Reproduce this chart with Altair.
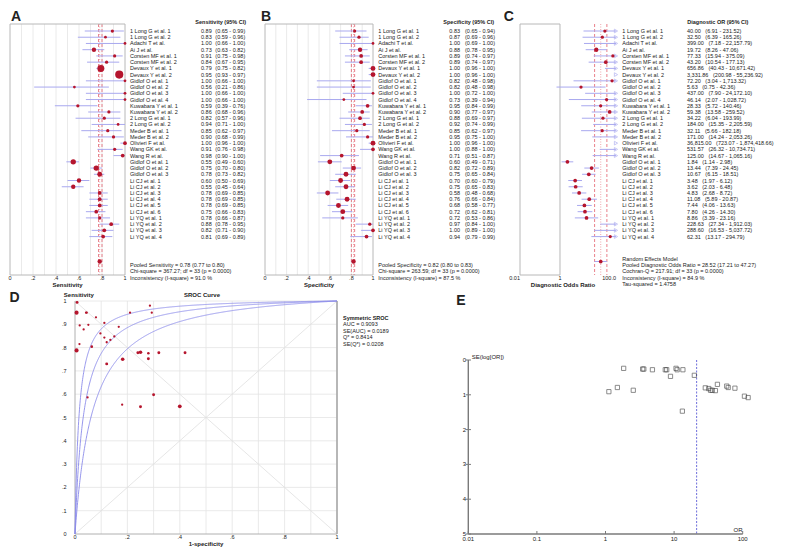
import altair as alt
import pandas as pd

FONT = "Liberation Sans"
DOT = "#b5152d"
CIC = "#a9a9ef"
TXT = "#222222"
FRAME = "#b8b8b8"
GRID = "#e4e4e4"
POOLC = "#e2606c"
SROC = "#8b8bea"
AXC = "#7a7a7a"

# ---------------- data ----------------
studies = [
    "1  Long G et al. 1", "1  Long G et al. 2", "Adachi T et al.", "Ai J et al.",
    "Corsten MF et al. 1", "Corsten MF et al. 2", "Devaux Y et al. 1", "Devaux Y et al. 2",
    "Gidlof O et al. 1", "Gidlof O et al. 2", "Gidlof O et al. 3", "Gidlof O et al. 4",
    "Kuwabara Y et al. 1", "Kuwabara Y et al. 2", "2 Long G et al.   1", "2 Long G et al.   2",
    "Meder  B et al. 1", "Meder  B et al. 2", "Olivieri F et al.", "Wang GK et al.",
    "Wang R et al.", "Gidlof O et al. 1", "Gidlof O et al. 2", "Gidlof O et al. 3",
    "Li CJ et al. 1", "Li CJ et al. 2", "Li CJ et al. 3", "Li CJ et al. 4",
    "Li CJ et al. 5", "Li CJ et al. 6", "Li  YQ et al. 1", "Li  YQ et al. 2",
    "Li  YQ et al. 3", "Li  YQ et al. 4",
]

sens = [0.89, 0.83, 1.00, 0.73, 0.91, 0.84, 0.79, 0.95, 1.00, 0.56, 1.00, 1.00, 0.59, 0.86, 0.82, 0.94, 0.85,
        0.90, 1.00, 0.91, 0.98, 0.55, 0.75, 0.78, 0.60, 0.55, 0.78, 0.78, 0.78, 0.75, 0.78, 0.88, 0.82, 0.81]
sens_lo = [0.65, 0.59, 0.66, 0.63, 0.75, 0.67, 0.75, 0.93, 0.66, 0.21, 0.66, 0.66, 0.39, 0.68, 0.57, 0.71, 0.62,
           0.68, 0.96, 0.76, 0.90, 0.49, 0.70, 0.73, 0.50, 0.45, 0.69, 0.69, 0.69, 0.66, 0.66, 0.78, 0.71, 0.69]
sens_hi = [0.99, 0.96, 1.00, 0.82, 0.98, 0.95, 0.82, 0.97, 1.00, 0.86, 1.00, 1.00, 0.76, 0.96, 0.96, 1.00, 0.97,
           0.99, 1.00, 0.98, 1.00, 0.60, 0.80, 0.82, 0.69, 0.64, 0.85, 0.85, 0.85, 0.83, 0.87, 0.95, 0.90, 0.89]
sens_w = [2, 1.7, 1.7, 2.7, 2, 2, 4.3, 5, 1.7, 1.7, 1.7, 1.7, 2, 2, 2, 1.7, 2, 2, 2.3, 2, 2.3, 3.3, 3.3, 3,
          2.7, 2.7, 2.3, 2.3, 2.3, 2.3, 2, 2.3, 2.3, 2.3]

spec = [0.83, 0.87, 1.00, 0.88, 0.89, 0.89, 1.00, 1.00, 0.82, 0.82, 1.00, 0.73, 0.95, 0.90, 0.88, 0.92, 0.85,
        0.95, 1.00, 1.00, 0.71, 0.60, 0.82, 0.75, 0.70, 0.75, 0.58, 0.76, 0.68, 0.72, 0.72, 0.97, 1.00, 0.94]
spec_lo = [0.65, 0.69, 0.69, 0.78, 0.74, 0.74, 0.96, 0.96, 0.48, 0.48, 0.72, 0.39, 0.84, 0.77, 0.69, 0.74, 0.62,
           0.75, 0.96, 0.88, 0.51, 0.49, 0.72, 0.65, 0.60, 0.65, 0.48, 0.66, 0.58, 0.62, 0.53, 0.84, 0.89, 0.79]
spec_hi = [0.94, 0.96, 1.00, 0.95, 0.97, 0.97, 1.00, 1.00, 0.98, 0.98, 1.00, 0.94, 0.99, 0.97, 0.97, 0.99, 0.97,
           1.00, 1.00, 1.00, 0.87, 0.71, 0.89, 0.84, 0.79, 0.83, 0.68, 0.84, 0.77, 0.81, 0.86, 1.00, 1.00, 0.99]
spec_w = [2, 2, 1.7, 2.7, 2.3, 2.3, 3, 3, 1.7, 1.7, 1.7, 1.7, 2.3, 2.3, 2.3, 2, 2, 2, 3, 2.3, 2.3, 3, 3, 3,
          3, 3, 3, 3, 3, 3, 2, 2, 2.3, 2.3]

dor = [40.00, 32.50, 399.00, 19.72, 77.33, 43.20, 656.86, 3331.86, 72.20, 5.63, 437.00, 46.14, 28.33, 59.38,
       34.22, 184.00, 32.11, 171.00, 36815.00, 531.57, 125.00, 1.84, 13.44, 10.67, 3.48, 3.62, 4.83, 11.08,
       7.44, 7.80, 8.86, 228.63, 288.60, 62.31]
dor_lo = [6.91, 6.39, 7.18, 8.26, 15.94, 10.54, 40.43, 200.98, 3.04, 0.75, 7.90, 2.07, 5.72, 13.58, 6.04,
          15.35, 5.66, 14.24, 723.07, 26.32, 14.67, 1.14, 7.39, 6.15, 1.97, 2.03, 2.68, 5.89, 4.06, 4.26,
          3.39, 27.34, 16.53, 13.17]
dor_hi = [231.52, 165.26, 22157.79, 47.06, 375.09, 177.13, 10671.42, 55236.92, 1713.32, 42.36, 24172.10,
          1028.72, 140.46, 259.52, 193.99, 2205.59, 182.18, 2053.26, 1874418.66, 10734.71, 1065.16, 2.98,
          24.45, 18.51, 6.12, 6.48, 8.72, 20.87, 13.63, 14.30, 23.16, 1912.03, 5037.72, 294.79]
dor_w = [2, 2, 2, 2.7, 2, 2.3, 2, 2, 2, 2, 2, 2, 2, 2.3, 2, 2, 2, 2, 2, 2, 2, 2.3, 2.3, 2.3, 2.3, 2.3, 2.3,
         2.3, 2.3, 2.3, 2.3, 2, 2, 2]

pool_sens = [0.78, 0.77, 0.80]
pool_spec = [0.82, 0.80, 0.83]
pool_dor = [28.52, 17.21, 47.27]

# SROC scatter (1-specificity, sensitivity, weight)
roc_fpr = [0.167, 0.135, 0.045, 0.121, 0.112, 0.112, 0.006, 0.006, 0.21, 0.18, 0.042, 0.293, 0.048, 0.097,
           0.121, 0.08, 0.15, 0.051, 0.008, 0.018, 0.286, 0.40, 0.182, 0.25, 0.30, 0.25, 0.42, 0.24, 0.32,
           0.28, 0.28, 0.033, 0.017, 0.064]
roc_sens = [0.889, 0.833, 0.95, 0.73, 0.906, 0.843, 0.788, 0.95, 0.95, 0.555, 0.95, 0.95, 0.586, 0.861,
            0.823, 0.93, 0.848, 0.898, 0.994, 0.895, 0.98, 0.548, 0.75, 0.78, 0.598, 0.546, 0.778, 0.778,
            0.778, 0.752, 0.776, 0.878, 0.815, 0.804]
roc_w = [1.4, 1.4, 1.4, 1.8, 1.4, 1.4, 2.5, 2.5, 1.4, 1.4, 1.4, 1.4, 1.4, 1.4, 1.4, 1.4, 1.4, 1.4, 1.8, 1.4,
         1.4, 2.3, 2.2, 2.2, 1.8, 1.8, 1.8, 1.8, 1.8, 1.8, 1.6, 1.4, 1.4, 1.6]
sroc_dor = [66, 31, 15.5]
sroc_text = ["AUC = 0.9093", "SE(AUC) = 0.0189", "Q* = 0.8414", "SE(Q*) = 0.0208"]

# funnel plot (OR, SE(log OR))
e_or = [1.12, 1.49, 1.84, 2.54, 3.48, 3.62, 4.83, 7.44, 7.80, 8.86, 10.67, 11.08, 13.44, 13.2, 19.72, 28.5,
        32.0, 34.0, 36.0, 40.0, 42.8, 58.5, 61.5, 77.0, 106.0, 120.0]
e_se = [0.91, 0.79, 0.24, 0.87, 0.26, 0.26, 0.28, 0.28, 0.28, 0.47, 0.24, 0.28, 0.28, 1.47, 0.44, 0.80,
        0.82, 0.87, 0.87, 0.88, 0.70, 0.75, 0.79, 0.81, 1.04, 1.08]
e_line = 21.3

# tick labels
prop_ticks = [0, 0.2, 0.4, 0.6, 0.8, 1]
prop_tick_labels = ["0", ".2", ".4", ".6", ".8", "1"]
roc_yticks = [0, 0.1, 0.2, 0.3, 0.4, 0.5, 0.6, 0.7, 0.8, 0.9, 1]
roc_ytick_labels = ["0", ".1", ".2", ".3", ".4", ".5", ".6", ".7", ".8", ".9", "1"]
e_xticks = [0.01, 0.1, 1, 10, 100]
e_xtick_labels = ["0.01", "0.1", "1", "10", "100"]
e_yticks = [0, 1, 2, 3, 4, 5]
e_ytick_labels = ["0", "1", "2", "3", "4", "5"]

# ---------------- helpers ----------------
ONE = pd.DataFrame({"o": [0]})
H = 510
TOP_H = 251
SIZE = alt.Scale(type="pow", exponent=2, domain=[0, 5], range=[0, 66])


def txt(s, x, y, size=5.5, bold=False, align="left", baseline="middle"):
    return alt.Chart(ONE).mark_text(
        text=s, align=align, baseline=baseline, font=FONT, fontSize=size,
        fontWeight="bold" if bold else "normal", color=TXT,
    ).encode(x=alt.value(x), y=alt.value(y))


def xlabels(vals, labs, xs, y, size=5.5, align="center"):
    df = pd.DataFrame({"t": vals, "lab": labs})
    return alt.Chart(df).mark_text(align=align, baseline="top", font=FONT, fontSize=size, color=TXT).encode(
        x=alt.X("t:Q", scale=xs, axis=None), y=alt.value(y), text="lab:N")


def ylabels(vals, labs, ys, x, size=5.5):
    df = pd.DataFrame({"t": vals, "lab": labs})
    return alt.Chart(df).mark_text(align="right", baseline="middle", font=FONT, fontSize=size, color=TXT).encode(
        y=alt.Y("t:Q", scale=ys, axis=None), x=alt.value(x), text="lab:N")


def forest(est, lo, hi, w, pool, pool_w, xs, frame, lab_x, val_x, ci_x, vals, cis,
           header, hx, footers, fy, letter, lx, cap=None, grid=True):
    ys = alt.Scale(domain=[-1.124, 39.165], range=[0, TOP_H], nice=False, zero=False)
    Y = alt.Y("row:Q", scale=ys, axis=None)
    df = pd.DataFrame({"row": list(range(len(studies))), "label": studies, "est": est, "lo": lo,
                       "hi": hi, "w": w, "vt": vals, "ct": cis})
    pts = alt.Chart(df)
    if cap is not None:
        pts = pts.transform_filter(f"datum.est <= {cap}")
    L = []
    if grid:
        L.append(alt.Chart(alt.sequence(0.1, 0.95, 0.1, as_="g")).mark_rule(color=GRID, strokeWidth=0.8)
                 .encode(x=alt.X("g:Q", scale=xs, axis=None), y=alt.value(0), y2=alt.value(TOP_H)))
    L.append(alt.Chart(pd.DataFrame({"v": [pool[0]]})).mark_rule(color=POOLC, strokeDash=[1, 1.5],
             strokeWidth=0.8, opacity=0.7)
             .encode(x=alt.X("v:Q", scale=xs, axis=None), y=alt.value(0), y2=alt.value(TOP_H)))
    L.append(alt.Chart(pd.DataFrame({"v": [pool[1], pool[2]]})).mark_rule(color=POOLC, strokeDash=[3, 2],
             strokeWidth=0.8)
             .encode(x=alt.X("v:Q", scale=xs, axis=None), y=alt.value(0), y2=alt.value(TOP_H)))
    L.append(alt.Chart(ONE).mark_rect(fillOpacity=0, stroke=FRAME, strokeWidth=1)
             .encode(x=alt.XDatum(frame[0], scale=xs, axis=None), x2=alt.X2Datum(frame[1]),
                     y=alt.value(0), y2=alt.value(TOP_H)))
    cib = alt.Chart(df)
    if cap is not None:
        cib = cib.transform_calculate(lo2=f"min(datum.lo, {cap})", hi2=f"min(datum.hi, {cap})")
        lo_f, hi_f = "lo2:Q", "hi2"
    else:
        lo_f, hi_f = "lo:Q", "hi"
    L.append(cib.mark_rule(color=CIC, strokeWidth=1)
             .encode(x=alt.X(lo_f, scale=xs, axis=None), x2=alt.X2(hi_f), y=Y))
    if cap is not None:
        L.append(alt.Chart(df).transform_filter(f"datum.hi > {cap}").transform_calculate(a=str(cap))
                 .mark_point(shape="triangle-right", filled=False, color=CIC, size=14, strokeWidth=0.9)
                 .encode(x=alt.X("a:Q", scale=xs, axis=None), y=Y))
    L.append(pts.mark_circle(color=DOT, opacity=1)
             .encode(x=alt.X("est:Q", scale=xs, axis=None), y=Y,
                     size=alt.Size("w:Q", scale=SIZE, legend=None)))
    dfp = pd.DataFrame({"row": [37], "est": [pool[0]], "lo": [pool[1]], "hi": [pool[2]], "w": [pool_w]})
    L.append(alt.Chart(dfp).mark_rule(color=CIC, strokeWidth=1)
             .encode(x=alt.X("lo:Q", scale=xs, axis=None), x2=alt.X2("hi"), y=Y))
    L.append(alt.Chart(dfp).mark_circle(color=DOT, opacity=1)
             .encode(x=alt.X("est:Q", scale=xs, axis=None), y=Y,
                     size=alt.Size("w:Q", scale=SIZE, legend=None)))
    tm = dict(align="left", baseline="middle", font=FONT, fontSize=5.5, color=TXT)
    L.append(alt.Chart(df).mark_text(**tm).encode(x=alt.value(lab_x), y=Y, text="label:N"))
    if ci_x is None:
        df2 = df.assign(full=[a + "\u00a0\u00a0\u00a0" + b for a, b in zip(vals, cis)])
        L.append(alt.Chart(df2).mark_text(**tm).encode(x=alt.value(val_x), y=Y, text="full:N"))
    else:
        L.append(alt.Chart(df).mark_text(**tm).encode(x=alt.value(val_x), y=Y, text="vt:N"))
        L.append(alt.Chart(df).mark_text(**tm).encode(x=alt.value(ci_x), y=Y, text="ct:N"))
    L.append(txt(header, hx, -2, bold=True))
    for s, yy in zip(footers, fy):
        L.append(txt(s, lab_x, yy))
    L.append(txt(letter, lx, -14, size=14, bold=True, baseline="top"))
    return L


def fmt2(v):
    return f"{v:.2f}"


# ---------------- panel A ----------------
xs_a = alt.Scale(domain=[0, 1], range=[0, 115], nice=False, zero=False)
LA = forest(
    sens, sens_lo, sens_hi, sens_w, pool_sens, 2.7, xs_a, (0, 1), 120, 191, 205.3, [fmt2(v) for v in sens],
    [f"({fmt2(a)} - {fmt2(b)})" for a, b in zip(sens_lo, sens_hi)],
    "Sensitivity (95% CI)", 185.3,
    ["Pooled Sensitivity = 0.78 (0.77 to 0.80)", "Chi-square = 367.27; df = 33 (p = 0.0000)",
     "Inconsistency (I-square) = 91.0 %"], [240.7, 247, 254], "A", 1)
LA.append(xlabels(prop_ticks, prop_tick_labels, xs_a, 252))
LA.append(txt("Sensitivity", 57.5, 260.5, size=6, bold=True, align="center"))
panel_a = alt.layer(*LA)

# ---------------- panel B ----------------
xs_b = alt.Scale(domain=[0, 1], range=[255, 363], nice=False, zero=False)
LB = forest(
    spec, spec_lo, spec_hi, spec_w, pool_spec, 2.7, xs_b, (0, 1), 368.3, 439.3, 455, [fmt2(v) for v in spec],
    [f"({fmt2(a)} - {fmt2(b)})" for a, b in zip(spec_lo, spec_hi)],
    "Specificity (95% CI)", 433.3,
    ["Pooled Specificity = 0.82 (0.80 to 0.83)", "Chi-square = 263.59; df = 33 (p = 0.0000)",
     "Inconsistency (I-square) = 87.5 %"], [240.7, 247, 254], "B", 251)
LB.append(xlabels(prop_ticks, prop_tick_labels, xs_b, 252))
LB.append(txt("Specificity", 309, 260.5, size=6, bold=True, align="center"))
panel_b = alt.layer(*LB)

# ---------------- panel C ----------------
c_left = 0.0373
xs_c = alt.Scale(type="log", domain=[c_left, 100], range=[510, 606], nice=False)
LC = forest(
    dor, dor_lo, dor_hi, dor_w, pool_dor, 2.3, xs_c, (c_left, 1), 612.3, 677, None,
    [f"{v:,.2f}" for v in dor], [f"({a:,.2f} - {b:,.2f})" for a, b in zip(dor_lo, dor_hi)],
    "Diagnostic OR (95% CI)", 677.3,
    ["Random Effects Model", "Pooled Diagnostic Odds Ratio = 28.52 (17.21 to 47.27)",
     "Cochran-Q = 217.91; df = 33 (p = 0.0000)", "Inconsistency (I-square) = 84.9 %",
     "Tau-squared = 1.4758"], [234.7, 241, 247.3, 254, 260], "C", 493.7, cap=100, grid=False)
LC.append(xlabels([c_left], ["0.01"], xs_c, 252, align="right"))
LC.append(xlabels([1], ["1"], xs_c, 252))
LC.append(xlabels([100], ["100.0"], xs_c, 252, align="right"))
LC.append(txt("Diagnostic Odds Ratio", 553, 260.5, size=6, bold=True, align="center"))
panel_c = alt.layer(*LC)

# ---------------- panel D (SROC) ----------------
xs_d = alt.Scale(domain=[0, 1], range=[65, 327], nice=False, zero=False)
ys_d = alt.Scale(domain=[0, 1], range=[510, 277], nice=False, zero=False)
df_roc = pd.DataFrame({"fpr": roc_fpr, "sens": roc_sens, "w": roc_w})
D = []
D.append(alt.Chart(alt.sequence(0.1, 1.05, 0.1, as_="g")).mark_rule(color=GRID, strokeWidth=0.8)
         .encode(x=alt.X("g:Q", scale=xs_d, axis=None), y=alt.YDatum(0, scale=ys_d, axis=None),
                 y2=alt.Y2Datum(1)))
D.append(alt.Chart(alt.sequence(0.1, 1.05, 0.1, as_="g")).mark_rule(color=GRID, strokeWidth=0.8)
         .encode(y=alt.Y("g:Q", scale=ys_d, axis=None), x=alt.XDatum(0, scale=xs_d, axis=None),
                 x2=alt.X2Datum(1)))
D.append(alt.Chart(ONE).mark_rule(color="#e0e0e0", strokeWidth=0.8)
         .encode(x=alt.XDatum(0, scale=xs_d, axis=None), y=alt.YDatum(0, scale=ys_d, axis=None),
                 x2=alt.X2Datum(1), y2=alt.Y2Datum(1)))
D.append(alt.Chart(ONE).mark_rule(color="#e0e0e0", strokeWidth=0.8)
         .encode(x=alt.XDatum(0, scale=xs_d, axis=None), y=alt.YDatum(1, scale=ys_d, axis=None),
                 x2=alt.X2Datum(1), y2=alt.Y2Datum(0)))
# axis lines and right border
D.append(alt.Chart(ONE).mark_rule(color="#b0b0b0", strokeWidth=1)
         .encode(x=alt.XDatum(0, scale=xs_d, axis=None), y=alt.YDatum(0, scale=ys_d, axis=None),
                 y2=alt.Y2Datum(1)))
D.append(alt.Chart(ONE).mark_rule(color="#b0b0b0", strokeWidth=1)
         .encode(x=alt.XDatum(0, scale=xs_d, axis=None), x2=alt.X2Datum(1),
                 y=alt.YDatum(0, scale=ys_d, axis=None)))
D.append(alt.Chart(ONE).mark_rule(color="#a8a8a8", strokeWidth=1.6)
         .encode(x=alt.XDatum(1, scale=xs_d, axis=None), y=alt.YDatum(0, scale=ys_d, axis=None),
                 y2=alt.Y2Datum(1)))
for d in sroc_dor:
    D.append(alt.Chart(alt.sequence(0, 1.0001, 0.001, as_="f"))
             .transform_calculate(s=f"{d} * datum.f / (1 - datum.f + {d} * datum.f)")
             .mark_line(color=SROC, strokeWidth=0.9)
             .encode(x=alt.X("f:Q", scale=xs_d, axis=None), y=alt.Y("s:Q", scale=ys_d, axis=None)))
D.append(alt.Chart(df_roc).mark_circle(color=DOT, opacity=1)
         .encode(x=alt.X("fpr:Q", scale=xs_d, axis=None), y=alt.Y("sens:Q", scale=ys_d, axis=None),
                 size=alt.Size("w:Q", scale=SIZE, legend=None)))
D.append(xlabels(prop_ticks, prop_tick_labels, xs_d, 511))
D.append(ylabels(roc_yticks, roc_ytick_labels, ys_d, 56.5))
D.append(txt("1-specificity", 196, 520, size=6, bold=True, align="center"))
D.append(txt("Sensitivity", 68.8, 271, size=6, bold=True, align="center"))
D.append(txt("SROC Curve", 192, 271, size=6, bold=True, align="center"))
D.append(txt("D", -0.5, 266.5, size=14, bold=True, baseline="top"))
D.append(txt("Symmetric SROC", 333, 294.3, bold=True))
for s, yy in zip(sroc_text, [300, 306.7, 313.3, 320]):
    D.append(txt(s, 333, yy))
panel_d = alt.layer(*D)

# ---------------- panel E (funnel) ----------------
xs_e = alt.Scale(type="log", domain=[0.01, 100], range=[458.3, 732.7], nice=False)
ys_e = alt.Scale(domain=[0, 5], range=[336, 510], nice=False, zero=False)
df_e = pd.DataFrame({"or": e_or, "se": e_se})
E = []
E.append(alt.Chart(pd.DataFrame({"v": [e_line]})).mark_rule(color="#5d5dd6", strokeDash=[2, 1.5],
         strokeWidth=0.9)
         .encode(x=alt.X("v:Q", scale=xs_e, axis=None), y=alt.YDatum(0, scale=ys_e, axis=None),
                 y2=alt.Y2Datum(5)))
# axis lines
E.append(alt.Chart(ONE).mark_rule(color=AXC, strokeWidth=1.4)
         .encode(x=alt.XDatum(0.01, scale=xs_e, axis=None), y=alt.YDatum(0, scale=ys_e, axis=None),
                 y2=alt.Y2Datum(5)))
E.append(alt.Chart(ONE).mark_rule(color=AXC, strokeWidth=1.4)
         .encode(x=alt.XDatum(0.01, scale=xs_e, axis=None), x2=alt.X2Datum(100),
                 y=alt.YDatum(5, scale=ys_e, axis=None)))
# tick marks
E.append(alt.Chart(pd.DataFrame({"t": e_yticks})).mark_rule(color=AXC, strokeWidth=1)
         .encode(y=alt.Y("t:Q", scale=ys_e, axis=None), x=alt.value(455.8), x2=alt.value(461)))
E.append(alt.Chart(pd.DataFrame({"t": e_xticks})).mark_rule(color=AXC, strokeWidth=1)
         .encode(x=alt.X("t:Q", scale=xs_e, axis=None), y=alt.value(507), y2=alt.value(510)))
E.append(alt.Chart(df_e).mark_point(shape="square", filled=False, color="#333333", size=18, strokeWidth=0.8)
         .encode(x=alt.X("or:Q", scale=xs_e, axis=None), y=alt.Y("se:Q", scale=ys_e, axis=None)))
E.append(xlabels(e_xticks, e_xtick_labels, xs_e, 512, size=6))
E.append(ylabels(e_yticks, e_ytick_labels, ys_e, 456, size=6))
E.append(txt("SE(log[OR])", 461.7, 332.7, size=6))
E.append(txt("OR", 728, 506, size=6, align="center"))
E.append(txt("E", 446.3, 270, size=14, bold=True, baseline="top"))
panel_e = alt.layer(*E)

chart = (
    alt.layer(panel_a, panel_b, panel_c, panel_d, panel_e)
    .resolve_scale(x="independent", y="independent", size="independent")
    .properties(width=733, height=H, padding={"top": 2, "left": 0, "right": 0, "bottom": 0})
    .configure_view(strokeWidth=0)
)

chart.save("out.html", embed_options={"renderer": "svg", "actions": False})
